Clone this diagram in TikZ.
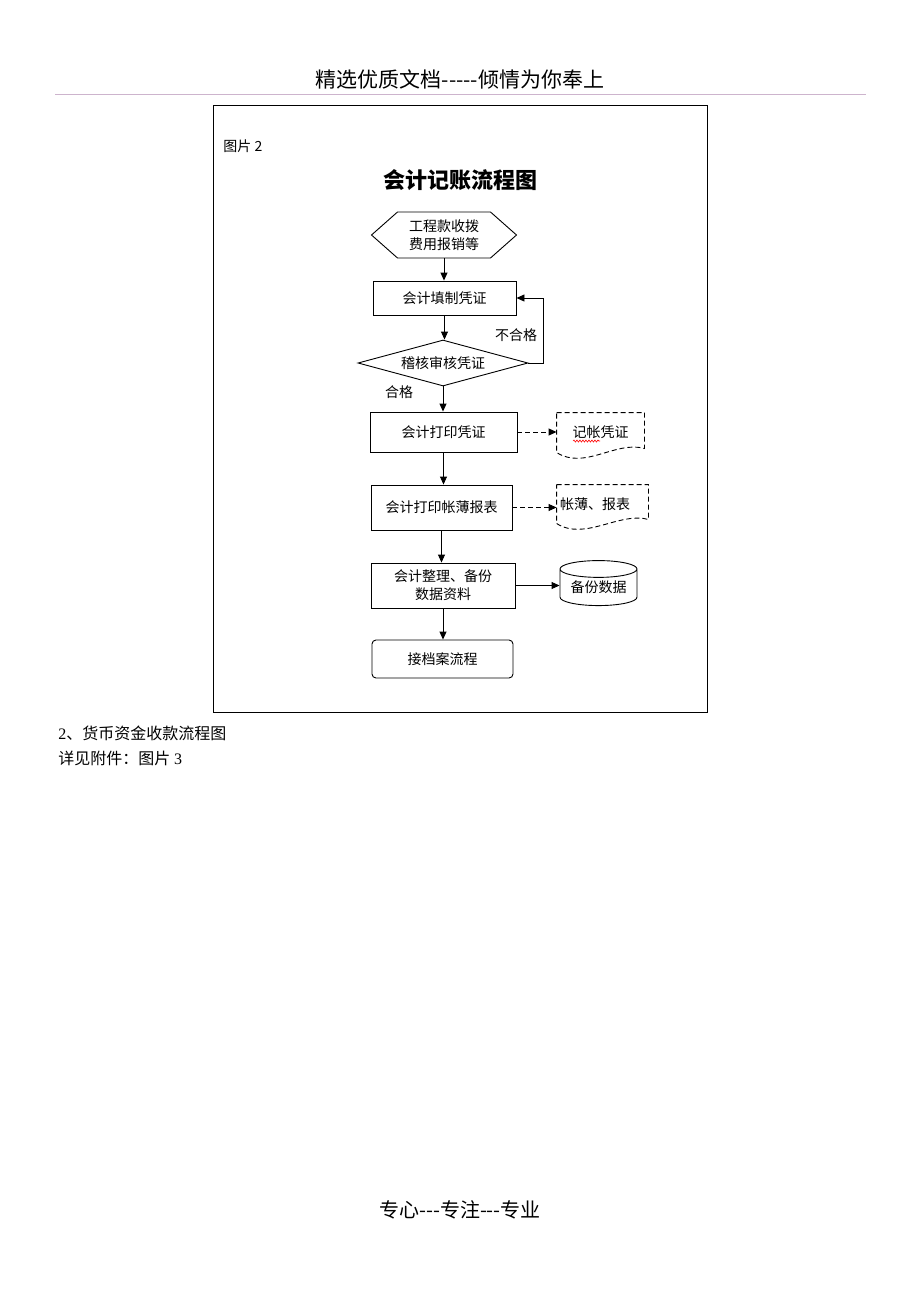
\documentclass[tikz,border=0pt]{standalone}
\usepackage{fontspec}
\setmainfont{Noto Sans CJK SC}
\newfontfamily\latinserif{Liberation Serif}
\usetikzlibrary{shapes.geometric,shapes.symbols,arrows.meta,decorations.pathmorphing}

\begin{document}
\begin{tikzpicture}[x=1pt,y=-1pt,
    font=\fontsize{14}{18}\selectfont,
    line width=0.9pt,
    >={Triangle[length=8pt,width=7pt]},
    every node/.style={inner sep=0pt,align=center},
    procbox/.style={draw,rectangle,minimum width=#1},
    startbox/.style={draw,signal,signal to=east and west,signal pointer angle=83,
      minimum width=145pt,minimum height=46pt},
    checkbox/.style={draw,diamond,aspect=3.7,minimum width=170pt,minimum height=46pt},
    docbox/.style={rectangle,minimum width=#1},
    dbbox/.style={draw,cylinder,shape border rotate=90,aspect=0.3,
      minimum width=77pt,minimum height=45pt},
    doclink/.style={->,dash pattern=on 5pt off 3pt}]
  \useasboundingbox (0,0) rectangle (920,1302);

  \node[font=\fontsize{21}{24}\selectfont] (head) at (460,79) {精选优质文档-{}-{}-{}-{}-倾情为你奉上};
  \draw[line width=1pt,color={rgb,255:red,205;green,180;blue,205}] (55,94) -- (866,94);
  \draw[line width=1pt] (213,105) rectangle (707,712);
  \node[anchor=west,font=\fontsize{14}{16}\selectfont] (pic) at (223,146) {图片 2};
  \node[font=\fontsize{22}{26}\selectfont\bfseries] (title) at (460,180) {会计记账流程图};

  \node[startbox] (src) at (444,235) {工程款收拨\\费用报销等};
  \node[procbox=143pt,minimum height=34pt] (fill) at (444.5,298) {会计填制凭证};
  \node[checkbox] (audit) at (443,363) {稽核审核凭证};
  \node[procbox=147pt,minimum height=40pt] (printv) at (443.5,432) {会计打印凭证};
  \node[procbox=141pt,minimum height=45pt] (printb) at (441.5,507.5) {会计打印帐薄报表};
  \node[procbox=144pt,minimum height=45pt] (backup) at (443,585.5) {会计整理、备份\\数据资料};
  \node[procbox=141pt,minimum height=38pt,rounded corners=4pt] (archive) at (442.5,659) {接档案流程};

  \node[docbox=87pt,minimum height=39pt] (doc1) at (600.5,432.5) {记帐凭证};
  \node[docbox=91pt,minimum height=38pt,text width=85pt,align=left] (doc2) at (602.5,504) {帐薄、报表};
  \node[dbbox] (db) at (598.5,587.5) {备份数据};

  \foreach \d in {doc1,doc2}
    \draw[dash pattern=on 5pt off 3pt] (\d.north west) -- (\d.north east)
      -- ([yshift=4pt]\d.south east)
      .. controls ([xshift=-29pt,yshift=12pt]\d.south east) and ([xshift=28pt,yshift=-18pt]\d.south west)
      .. (\d.south west) -- cycle;
  \draw[red,line width=0.6pt,decorate,decoration={snake,amplitude=1pt,segment length=3pt}]
    (573,441) -- (600,441);

  \foreach \a/\b in {src/fill,fill/audit,audit/printv,printv/printb,printb/backup,backup/archive}
    \draw[->] (\a.south) -- (\a.south |- \b.north);
  \draw[->] (audit.east) -- ++(15,0) |- (fill.east);
  \node (fail) at (516,335) {不合格};
  \node (pass) at (399,392) {合格};

  \draw[doclink] (printv.east) -- (printv.east -| doc1.west);
  \draw[doclink] (printb.east) -- (printb.east -| doc2.west);
  \draw[->] (backup.east) -- (backup.east -| db.west);

  \node[anchor=west,font=\fontsize{16}{20}\selectfont] (sec) at (58,733) {{\latinserif 2}、货币资金收款流程图};
  \node[anchor=west,font=\fontsize{16}{20}\selectfont] (see) at (58,758) {详见附件：图片 {\latinserif 3}};
  \node[font=\fontsize{20}{24}\selectfont] (foot) at (460,1210) {专心-{}-{}-专注-{}-{}-专业};
\end{tikzpicture}
\end{document}
